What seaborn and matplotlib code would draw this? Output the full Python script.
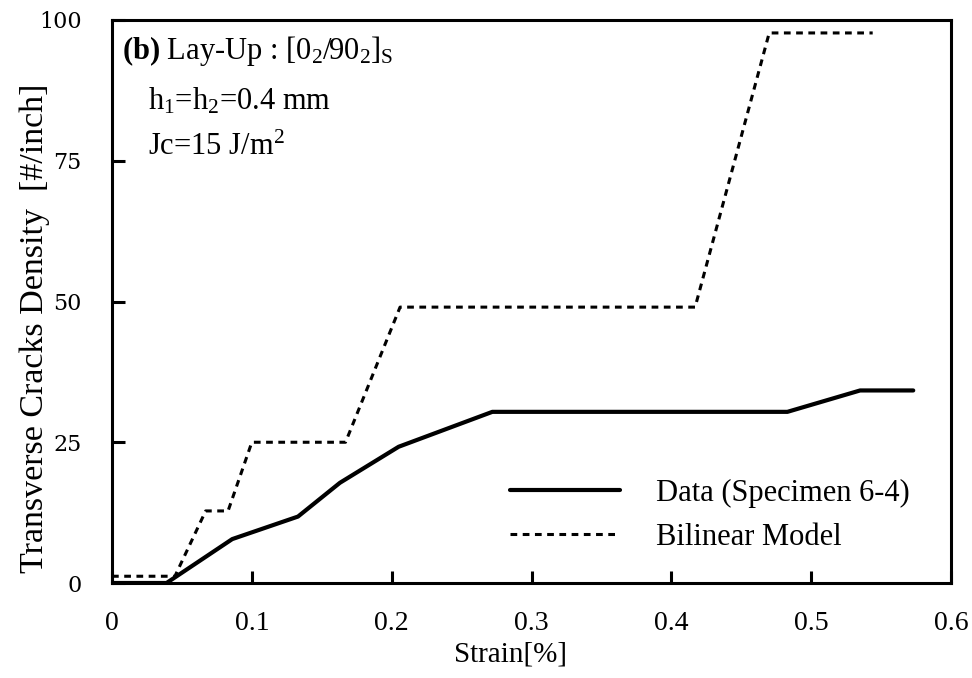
import matplotlib
matplotlib.use("Agg")
import matplotlib.pyplot as plt
import seaborn as sns
import pandas as pd

# Measured crack density (Specimen 6-4)
data_strain = [0.0, 0.039, 0.086, 0.133, 0.163, 0.205, 0.272, 0.483, 0.535, 0.573]
data_density = [0.0, 0.0, 7.8, 11.8, 17.8, 24.2, 30.4, 30.4, 34.2, 34.2]

# Bilinear model prediction
model_strain = [0.0, 0.045, 0.067, 0.083, 0.100, 0.167, 0.206, 0.417, 0.470, 0.544]
model_density = [1.2, 1.2, 12.8, 12.8, 25.0, 25.0, 49.0, 49.0, 97.7, 97.7]

x_ticks = [0, 0.1, 0.2, 0.3, 0.4, 0.5, 0.6]
x_tick_labels = ["0", "0.1", "0.2", "0.3", "0.4", "0.5", "0.6"]
y_ticks = [0, 25, 50, 75, 100]
y_tick_labels = ["0", "25", "50", "75", "100"]

sns.set_theme(style="white")
plt.rcParams["font.family"] = ["Liberation Serif", "DejaVu Serif"]
plt.rcParams["text.color"] = "black"
plt.rcParams["axes.labelcolor"] = "black"
plt.rcParams["xtick.color"] = "black"
plt.rcParams["ytick.color"] = "black"
plt.rcParams["mathtext.fontset"] = "custom"
plt.rcParams["mathtext.rm"] = "Liberation Serif"
plt.rcParams["mathtext.it"] = "Liberation Serif:italic"
plt.rcParams["mathtext.bf"] = "Liberation Serif:bold"

df_data = pd.DataFrame({"strain": data_strain, "density": data_density})
df_model = pd.DataFrame({"strain": model_strain, "density": model_density})

fig = plt.figure(figsize=(9.72, 6.78), dpi=100)
ax = fig.add_axes([112 / 972, 1 - 583 / 678, 839 / 972, 563 / 678])

sns.lineplot(data=df_data, x="strain", y="density", ax=ax, color="black",
             linewidth=3.0, sort=False, label="Data (Specimen 6-4)")
sns.lineplot(data=df_model, x="strain", y="density", ax=ax, color="black",
             linewidth=2.2, sort=False, label="Bilinear Model",
             dashes=False)
ax.lines[1].set_dashes([2.2, 1.8])

ax.set_xlim(0, 0.6)
ax.set_ylim(0, 100)
ax.set_xticks(x_ticks)
ax.set_xticklabels(x_tick_labels, fontsize=20)
ax.set_yticks(y_ticks)
ax.set_yticklabels(y_tick_labels, fontsize=16, family="DejaVu Serif")
ax.tick_params(axis="both", direction="in", length=9, width=2.2,
               bottom=True, left=True, top=False, right=False,
               colors="black")
ax.tick_params(axis="x", pad=20)
ax.tick_params(axis="y", pad=22)

for s in ax.spines.values():
    s.set_linewidth(2.2)
    s.set_color("black")

ax.set_xlabel("Strain[%]", fontsize=21)
ax.xaxis.set_label_coords((510 - 112) / 839, (583 - 641) / 563)
ax.set_ylabel("Transverse Cracks Density  [#/inch]", fontsize=24.5)
ax.yaxis.set_label_coords((50 - 112) / 839, (583 - 328) / 563)

leg = ax.legend(loc="center left", bbox_to_anchor=(0.474, 0.120),
                frameon=False, fontsize=22, handlelength=3.6,
                handletextpad=1.2, labelspacing=0.5, borderpad=0,
                borderaxespad=0)
for h in leg.get_lines():
    h.set_color("black")
for t in leg.get_texts():
    t.set_color("black")
leg.get_lines()[0].set_linewidth(3.0)
leg.get_lines()[1].set_linewidth(2.2)
leg.get_lines()[1].set_dashes([2.2, 1.8])

ax.text(0.012, 0.945, r"$\mathbf{(b)}$ Lay-Up : $[0_2/90_2]_\mathrm{S}$",
        transform=ax.transAxes, fontsize=22, va="center", ha="left")
ax.text(0.043, 0.856, r"h$_1$=h$_2$=0.4 mm",
        transform=ax.transAxes, fontsize=22, va="center", ha="left")
ax.text(0.043, 0.774, r"Jc=15 J/m$^2$",
        transform=ax.transAxes, fontsize=22, va="center", ha="left")

fig.savefig("out.png", dpi=100)
